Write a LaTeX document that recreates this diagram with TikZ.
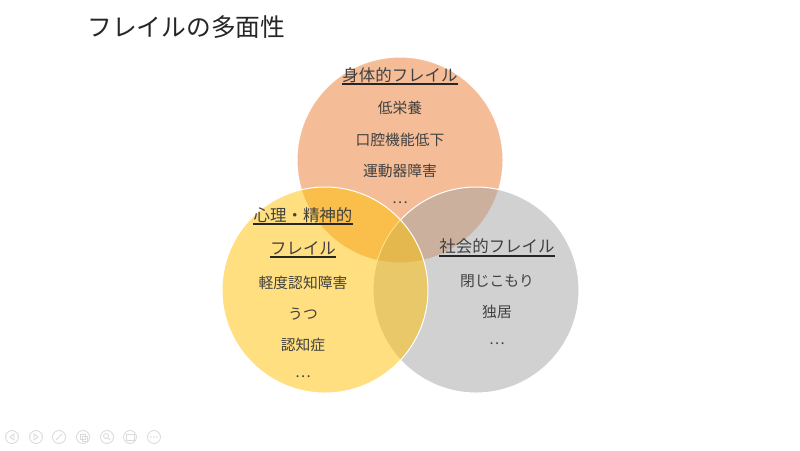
\documentclass[tikz,border=0pt]{standalone}
\usepackage{fontspec}
\setmainfont{Noto Sans CJK JP}
\definecolor{corange}{HTML}{ED7D31}
\definecolor{cyellow}{HTML}{FFC000}
\definecolor{cgray}{HTML}{A5A5A5}
\definecolor{ctext}{HTML}{404040}
\definecolor{ctitle}{HTML}{262626}
\definecolor{cicon}{HTML}{DADADA}
\begin{document}
\begin{tikzpicture}[x=0.025cm,y=-0.025cm,
  venn/.style={draw=white,line width=0.7pt,fill opacity=0.5,draw opacity=1},
  body/.style={text=ctext,inner sep=0pt,font=\fontsize{10.5pt}{12pt}\selectfont},
  head/.style={text=ctext,inner sep=0pt,font=\fontsize{11.7pt}{14pt}\selectfont},
  ul/.style={draw=ctitle,line width=0.75pt},
  ttl/.style={text=ctitle,inner sep=0pt,anchor=west,font=\fontsize{17.6pt}{20pt}\selectfont},
  ic/.style={draw=cicon,line width=0.6pt}]
\useasboundingbox (0,0) rectangle (800,450);
\fill[white] (0,0) rectangle (800,450);
\node[ttl] (title) at (87,27) {フレイルの多面性};
% circles (order: orange, gray, yellow)
\path[venn,fill=corange] (400,160) circle (103);
\path[venn,fill=cgray] (476,290) circle (103);
\path[venn,fill=cyellow] (325,290) circle (103);
% physical
\node[head] (p0) at (400,75) {身体的フレイル};
\draw[ul] (p0.west |- 0,84) -- (p0.east |- 0,84);
\node[body] (p1) at (400,108) {低栄養};
\node[body] (p2) at (400,140) {口腔機能低下};
\node[body] (p3) at (400,171) {運動器障害};
\node[body] (p4) at (400,203) {…};
% mental
\node[head] (m0) at (303,215) {心理・精神的};
\draw[ul] (m0.west |- 0,224) -- (m0.east |- 0,224);
\node[head] (m1) at (303,248) {フレイル};
\draw[ul] (m1.west |- 0,257) -- (m1.east |- 0,257);
\node[body] (m2) at (303,283) {軽度認知障害};
\node[body] (m3) at (303,314) {うつ};
\node[body] (m4) at (303,345) {認知症};
\node[body] (m5) at (303,377) {…};
% social
\node[head] (s0) at (497,246) {社会的フレイル};
\draw[ul] (s0.west |- 0,256) -- (s0.east |- 0,256);
\node[body] (s1) at (497,281) {閉じこもり};
\node[body] (s2) at (497,312) {独居};
\node[body] (s3) at (497,344) {…};
% slide controls
\foreach \x in {12,36,59,83,107,130,154} \draw[ic] (\x,437) circle (6.5);
\draw[ic] (14,434) -- (10,437) -- (14,440) -- cycle;
\draw[ic] (34,434) -- (38,437) -- (34,440) -- cycle;
\draw[ic] (56,440) -- (62,434);
\draw[ic] (80,434) rectangle (85,439);
\draw[ic] (82,436) rectangle (87,441);
\draw[ic] (106,436) circle (2.5);
\draw[ic] (108,438) -- (110,440);
\draw[ic] (126,434) rectangle (134,440);
\fill[cicon] (151,437) circle (0.8) (154,437) circle (0.8) (157,437) circle (0.8);
\end{tikzpicture}
\end{document}
